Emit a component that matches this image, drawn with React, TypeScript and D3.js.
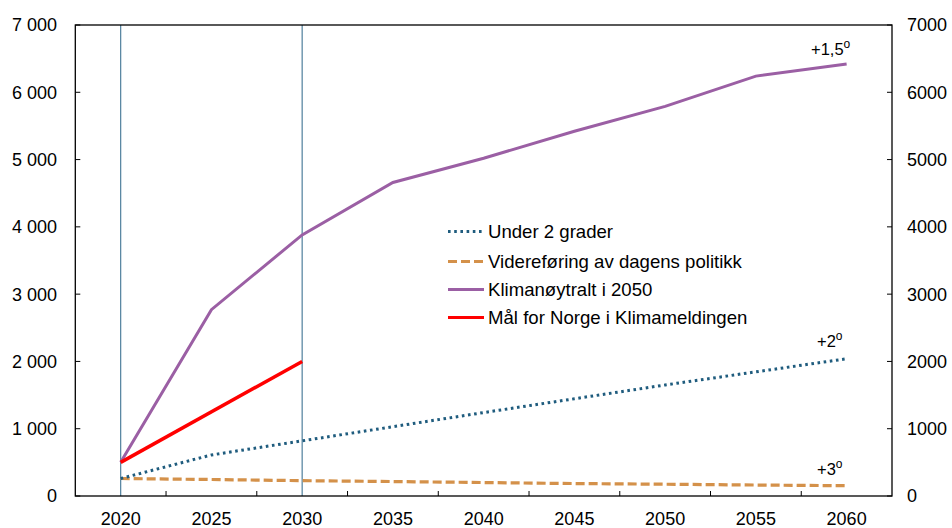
import React from "react";
import * as d3 from "d3";

const years = [2020, 2025, 2030, 2035, 2040, 2045, 2050, 2055, 2060];
const under2 = [260, 610, 820, 1030, 1240, 1445, 1650, 1845, 2040];
const videreforing = [260, 245, 228, 215, 200, 185, 175, 163, 153];
const klimanoytralt = [500, 2770, 3880, 4660, 5020, 5420, 5790, 6240, 6420];
const maalYears = [2020, 2030];
const maalNorge = [500, 2000];
const yTicks = [0, 1000, 2000, 3000, 4000, 5000, 6000, 7000];
const xTickMarks = [2022.5, 2027.5, 2032.5, 2037.5, 2042.5, 2047.5, 2052.5, 2057.5];
const vLines = [2020, 2030];

const legendItems = [
  { label: "Under 2 grader", color: "#1f5c7e", dash: "2.6 3.6", width: 3 },
  { label: "Videreføring av dagens politikk", color: "#d4914a", dash: "9 4", width: 3 },
  { label: "Klimanøytralt i 2050", color: "#9b5fa4", dash: "", width: 3 },
  { label: "Mål for Norge i Klimameldingen", color: "#ff0000", dash: "", width: 3 },
];

export default function App() {
  const left = 75.3, right = 892, top = 25, bottom = 496;
  const x = d3.scaleLinear().domain([2017.5, 2062.5]).range([left, right]);
  const y = d3.scaleLinear().domain([0, 7000]).range([bottom, top]);
  const line = d3
    .line<[number, number]>()
    .x((d) => x(d[0]))
    .y((d) => y(d[1]));
  const zip = (xs: number[], vs: number[]) => xs.map((v, i) => [v, vs[i]] as [number, number]);
  const font = "Liberation Sans, Arial, sans-serif";
  const fmtLeft = (v: number) => (v >= 1000 ? `${Math.floor(v / 1000)} ${String(v % 1000).padStart(3, "0")}` : `${v}`);

  return (
    <svg width={952} height={528} style={{ position: "absolute", left: 0, top: 0 }} fontFamily={font}>
      <rect x={0} y={0} width={952} height={528} fill="#fff" />
      {vLines.map((v) => (
        <line key={v} x1={x(v)} x2={x(v)} y1={top} y2={bottom} stroke="#4f7f9c" strokeWidth={1.2} />
      ))}
      <path d={line(zip(years, videreforing)) || ""} fill="none" stroke="#d4914a" strokeWidth={3.2} strokeDasharray="9 4" />
      <path d={line(zip(years, under2)) || ""} fill="none" stroke="#1f5c7e" strokeWidth={3} strokeDasharray="2.6 3.6" />
      <path d={line(zip(years, klimanoytralt)) || ""} fill="none" stroke="#9b5fa4" strokeWidth={3} />
      <path d={line(zip(maalYears, maalNorge)) || ""} fill="none" stroke="#ff0000" strokeWidth={3.5} />
      <rect x={left} y={top} width={right - left} height={bottom - top} fill="none" stroke="#000" strokeWidth={1.3} />
      {yTicks.map((t) => (
        <g key={t}>
          <line x1={left} x2={left + 5} y1={y(t)} y2={y(t)} stroke="#000" />
          <line x1={right - 5} x2={right} y1={y(t)} y2={y(t)} stroke="#000" />
          <text x={57} y={y(t)} dy="0.36em" textAnchor="end" fontSize={18} fill="#000">
            {fmtLeft(t)}
          </text>
          <text x={907} y={y(t)} dy="0.36em" textAnchor="start" fontSize={18} fill="#000">
            {t}
          </text>
        </g>
      ))}
      {xTickMarks.map((t) => (
        <line key={t} x1={x(t)} x2={x(t)} y1={bottom} y2={bottom - 5} stroke="#000" />
      ))}
      {years.map((yr) => (
        <text key={yr} x={x(yr)} y={525} textAnchor="middle" fontSize={18} fill="#000">
          {yr}
        </text>
      ))}
      {legendItems.map((it, i) => {
        const cy = [231.5, 261.5, 289.5, 317.5][i];
        return (
          <g key={it.label}>
            <line x1={448} x2={484} y1={cy} y2={cy} stroke={it.color} strokeWidth={it.width} strokeDasharray={it.dash || undefined} />
            <text x={488} y={cy} dy="0.36em" fontSize={18.6} fill="#000">
              {it.label}
            </text>
          </g>
        );
      })}
      <text x={811} y={55} fontSize={16.5} fill="#000">
        +1,5<tspan dy={-7} fontSize={12}>o</tspan>
      </text>
      <text x={817} y={347} fontSize={16.5} fill="#000">
        +2<tspan dy={-7} fontSize={12}>o</tspan>
      </text>
      <text x={817} y={475} fontSize={16.5} fill="#000">
        +3<tspan dy={-7} fontSize={12}>o</tspan>
      </text>
    </svg>
  );
}
